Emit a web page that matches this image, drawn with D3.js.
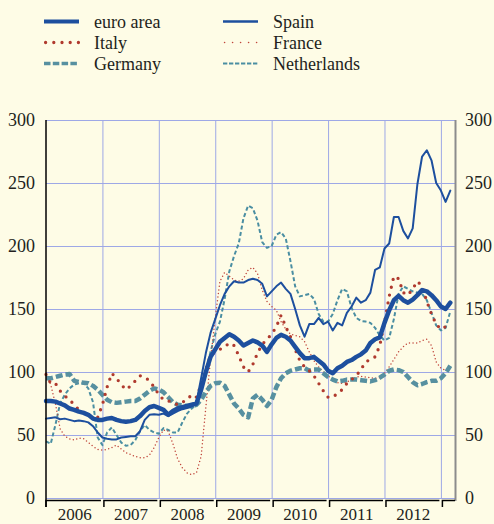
<!DOCTYPE html>
<html><head><meta charset="utf-8">
<script src="https://cdn.jsdelivr.net/npm/d3@7/dist/d3.min.js"></script>
<style>
html,body{margin:0;padding:0;background:#fefce6;}
svg{display:block;}
text{font-family:"Liberation Serif","Times New Roman",serif;fill:#231f20;}
</style></head>
<body>
<svg id="chart" width="494" height="524"></svg>
<script>
// ---- data (monthly, Jan 2006 .. Mar 2013) ----
const startYear = 2006;
const yearLabels = ["2006","2007","2008","2009","2010","2011","2012"];
const yTicks = [0,50,100,150,200,250,300];

const euroArea = [77,77,76.5,75,73.5,71,70,68.5,67.5,66,63,62,62,63,63.5,62,61,60.5,61,62,65,69,72,73,71.5,70,66,69,71,72,73,74,75,86,100,112,118,124,127,130,128,125,121,123,125,123.5,121,116,122,127,129.5,128,125,120,115,111,111,112,109,106,101,99,103,105,108,109.5,112,114,117,123,126,127.5,139,149,157,160.5,157,155,157.5,161,165,164,161,157,152,150,155];
const spain = [63,63.5,64,62.5,63,62,61,61.5,61,60,57,52,48,47,46.5,46.5,48,48.5,49,49,53,62,66,66.5,66,67,65,67,69,70.5,71.5,72.5,76,95,115,131,142,153,162,168,172,171,171,173,174,173,170,160,164,168,171,166,162,150,137,128,138,138,143,138,140,133,139,137,147,152,159,155,157,163,181,183,198,202,223,223,212,206,214,249,271,276,268,250,244,235,244];
const italy = [98,91,91,85,81,78,74,70,68,66,63,64,74,88,99,95,90,86,89,93,97,96,93,88,82,78,77,76,74,76,78,82,80,90,102,113,116,118,120,123,121,113,104,100,106,115,122,126,130,136,145,136,128,118,109,104,101,97,91,85,80,80,83,86,91,94,97,102,108,110,112,121,139,160,176,174,163,161,166,172,168,156,146,138,134,136,139];
const germany = [95,95,96,97,98,98.5,93,92,91.5,91,89,86,82,78,76,75.5,76,76.5,77,77,79,82,85,87,86,84,80,76,74,73.5,73,73,74,78,84,89,91,91.5,89,82,75,71,66,64,79,82,78,73,78,88,95,99,101,102,103,103,101,102,102,99,96,94,92.5,93,94,94,94,93.5,93,92.5,93.5,95.5,98,101,102,101.5,100,96,92,89.5,90.5,92,93,93,95,99,105];
const france = [99,90,75,55,49,47,46,47.5,47,44,41,38.5,38,38.5,40,42,39,36,34.5,33,32,32,34,40,48,54,53,43,31,24,20,18.5,20,33,72,110,143,172,179,176,173,172,174,181,183,178,165,156,152,149,140,134,130,129,128,124,116,109,104,100,97,94,91.5,91,92,94,96,96.5,96,95.5,95,95.5,99,104,110,116,120,123,123,123,125,126,121,108,103,101.5,100.5];
const netherlands = [45,43,58,75,82,87,90,91,91,87,76,48,42,52,56,50,44,41.5,42,46,53,58,54,52,51,55.5,54,52,52,60,67,71,74,83,100,116,130,140,158,180,192,202,222,232,230,220,203,198.5,200,209,211,206,188,168,160,161,162,158,146,140,140,146,157,166,164,151,143,140.5,140,139,135,129,125,127,142,162,168,166,164,163,162,157,147,137,133,135,148];

const seriesNames = ["euro area","Italy","Germany","Spain","France","Netherlands"];

// ---- layout ----
const svg = d3.select("#chart");
const L = 46, R = 455, T = 120, B = 498;
const x = d3.scaleLinear().domain([2006, 2013.25]).range([L, R]);
const y = d3.scaleLinear().domain([0, 300]).range([B, T]);

svg.append("rect").attr("width",494).attr("height",524).attr("fill","#fefce6");

const styles = {
  "euro area":  {data: euroArea,   color:"#1d4f9e", width:4.5, dash:null, cap:"round"},
  "Spain":      {data: spain,      color:"#1d4f9e", width:2,   dash:null, cap:"round"},
  "Italy":      {data: italy,      color:"#b03a2e", width:3.3, dash:"0,8", cap:"round"},
  "France":     {data: france,     color:"#c0463c", width:1.5, dash:"0,3.6", cap:"round"},
  "Germany":    {data: germany,    color:"#5790a0", width:4.5, dash:"7,3", cap:"butt"},
  "Netherlands":{data: netherlands,color:"#4a8ea2", width:2,   dash:"4,2.5", cap:"butt"}
};

// gridlines via axes
const gridY = d3.axisLeft(y).tickValues(yTicks).tickSize(-(R-L)).tickFormat("");
svg.append("g").attr("transform",`translate(${L},0)`).call(gridY)
  .call(g=>g.select(".domain").remove())
  .call(g=>g.selectAll("line").attr("stroke","#9ea8e6").attr("stroke-width",1));
const boundaries = d3.range(2007, 2014);
const gridX = d3.axisBottom(x).tickValues(boundaries).tickSize(-(B-T)).tickFormat("");
svg.append("g").attr("transform",`translate(0,${B})`).call(gridX)
  .call(g=>g.select(".domain").remove())
  .call(g=>g.selectAll("line").attr("stroke","#9ea8e6").attr("stroke-width",1));

// y labels left and right
const yl = d3.axisLeft(y).tickValues(yTicks).tickSize(0).tickPadding(11);
svg.append("g").attr("transform",`translate(${L},0)`).call(yl)
  .call(g=>g.select(".domain").remove())
  .call(g=>g.selectAll("text").attr("font-size",18).attr("font-family","Liberation Serif").attr("fill","#231f20"));
const yr = d3.axisRight(y).tickValues(yTicks).tickSize(0).tickPadding(10);
svg.append("g").attr("transform",`translate(${R},0)`).call(yr)
  .call(g=>g.select(".domain").remove())
  .call(g=>g.selectAll("text").attr("font-size",18).attr("font-family","Liberation Serif").attr("fill","#231f20"));

// series lines
const months = d3.range(euroArea.length).map(i => startYear + i/12);
const line = d3.line().x((d,i)=>x(months[i])).y(d=>y(d));
["Netherlands","France","Germany","Italy","Spain","euro area"].forEach(n=>{
  const s = styles[n];
  svg.append("path").datum(s.data).attr("d",line)
    .attr("fill","none").attr("stroke",s.color).attr("stroke-width",s.width)
    .attr("stroke-linejoin","round").attr("stroke-linecap",s.cap)
    .attr("stroke-dasharray",s.dash);
});

// axes frame
svg.append("line").attr("x1",L).attr("x2",L).attr("y1",T).attr("y2",B+9)
  .attr("stroke","#000").attr("stroke-width",1.5);
svg.append("line").attr("x1",R+0.5).attr("x2",R+0.5).attr("y1",T).attr("y2",B+3)
  .attr("stroke","#8c8c8c").attr("stroke-width",2);
const segs = d3.range(2006, 2014);
segs.forEach((yr0,i)=>{
  const x0 = x(yr0), x1 = i < segs.length-1 ? x(yr0+1) - 1.5 : R;
  svg.append("path")
    .attr("d",`M${x0+(i?1.5:0)},${B+9}V${B+2.5}H${x1}`)
    .attr("fill","none").attr("stroke","#000").attr("stroke-width",1.5);
});

// year labels
const xa = d3.axisBottom(x).tickValues(yearLabels.map(v=>+v+0.5))
  .tickFormat((d,i)=>yearLabels[i]).tickSize(0).tickPadding(0);
svg.append("g").attr("transform",`translate(0,${B+22})`).call(xa)
  .call(g=>g.select(".domain").remove())
  .call(g=>g.selectAll("text").attr("font-size",17).attr("font-family","Liberation Serif").attr("fill","#231f20").attr("y",0).attr("dy",null));

// legend
const legendPos = {
  "euro area":[44,21.5], "Italy":[44,42.5], "Germany":[44,63.5],
  "Spain":[223,21.5], "France":[223,42.5], "Netherlands":[223,63.5]
};
const legendStyle = {
  "euro area":{w:4,dash:null,cap:"butt"}, "Spain":{w:2.5,dash:null,cap:"butt"},
  "Italy":{w:3.3,dash:"0,8.2",cap:"round",off:1.6}, "France":{w:1.6,dash:"0,8",cap:"round",off:1.6},
  "Germany":{w:3.4,dash:"6.5,2.3",cap:"butt"}, "Netherlands":{w:2.2,dash:"4.3,1.7",cap:"butt"}
};
seriesNames.forEach(n=>{
  const [lx,ly] = legendPos[n], st = legendStyle[n], s = styles[n];
  const off = st.off || 0;
  svg.append("line").attr("x1",lx+off).attr("x2",lx+35).attr("y1",ly).attr("y2",ly)
    .attr("stroke",s.color).attr("stroke-width",st.w).attr("stroke-linecap",st.cap)
    .attr("stroke-dasharray",st.dash);
  svg.append("text").attr("x",lx+50).attr("y",ly+6.5).attr("font-size",18).text(n);
});
</script>
</body></html>
